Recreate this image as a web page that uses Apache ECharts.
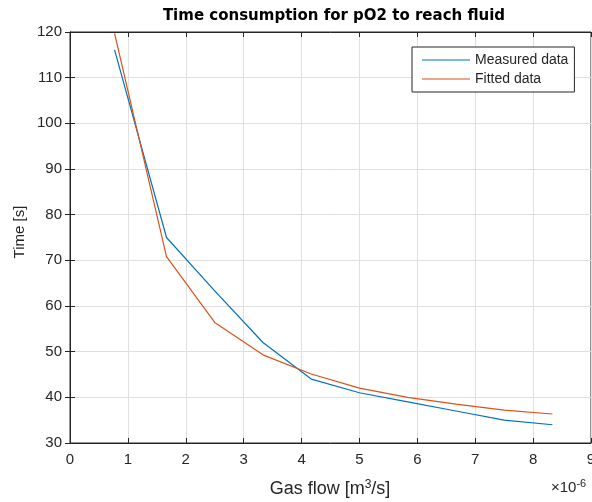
<!DOCTYPE html>
<html><head><meta charset="utf-8">
<script src="https://cdn.jsdelivr.net/npm/echarts@6/dist/echarts.min.js"></script>
<style>html,body{margin:0;padding:0;background:#fff}#c{width:592px;height:502px}</style>
</head><body><div id="c"></div>
<script>
// Gas flow in units of 1e-6 m^3/s
const gasFlow = [0.77, 1.667, 2.5, 3.333, 4.167, 5.0, 5.833, 6.667, 7.5, 8.333];
const measured = [116.1, 75, 63.3, 52, 44, 41, 39, 37, 35, 34];
const fitted = [119.7, 70.8, 56.4, 49.3, 45.1, 42.0, 40.0, 38.5, 37.2, 36.35];
const xTicks = [0,1,2,3,4,5,6,7,8,9];
const yTicks = [30,40,50,60,70,80,90,100,110,120];
const seriesNames = ['Measured data', 'Fitted data'];

const pairs = a => gasFlow.map((x,i)=>[x,a[i]]);
const font = '"Liberation Sans", Arial, Helvetica, sans-serif';
const chart = echarts.init(document.getElementById('c'));
const grid = {left:70, right:1, top:32, bottom:59, outerBoundsMode:'none', containLabel:false,
  show:true, borderColor:'#262626', borderWidth:1, backgroundColor:'#fff'};
const axisCommon = {
  type:'value', axisLine:{show:true, lineStyle:{color:'#262626', width:1}},
  axisTick:{show:true, inside:true, length:5, lineStyle:{color:'#262626'}},
};
chart.setOption({
  animation:false,
  textStyle:{fontFamily:font},
  grid,
  xAxis:[
    Object.assign({}, axisCommon, {min:0, max:9, interval:1, position:'bottom',
      splitLine:{show:true, lineStyle:{color:'#dfdfdf', width:1}},
      axisLabel:{color:'#262626', fontSize:15, margin:9, fontFamily:font, formatter:v=>xTicks.includes(v)?String(v):''}}),
    Object.assign({}, axisCommon, {min:0, max:9, interval:1, position:'top', axisLabel:{show:false}, splitLine:{show:false}})
  ],
  yAxis:[
    Object.assign({}, axisCommon, {min:30, max:120, interval:10, position:'left',
      splitLine:{show:true, lineStyle:{color:'#dfdfdf', width:1}},
      axisLabel:{color:'#262626', fontSize:15, margin:8, fontFamily:font, formatter:v=>yTicks.includes(v)?String(v):''}}),
    Object.assign({}, axisCommon, {min:30, max:120, interval:10, position:'right', axisLabel:{show:false}, splitLine:{show:false}})
  ],
  legend:{
    show:true, orient:'vertical', left:412, top:47,
    backgroundColor:'#fff', borderColor:'#262626', borderWidth:1,
    padding:[5,6,5,10], itemGap:3, itemWidth:48, itemHeight:1,
    icon:'rect',
    textStyle:{fontSize:14, color:'#262626', fontFamily:font, lineHeight:16},
    data:seriesNames
  },
  title:{text:'Time consumption for pO2 to reach fluid', left:329, top:4, textAlign:'center',
    textStyle:{fontSize:15, fontWeight:'bold', color:'#000', fontFamily:'"DejaVu Sans", sans-serif'}},
  graphic:[
    {type:'text', x:20, y:232, rotation:Math.PI/2, style:{text:'Time [s]', fill:'#262626', font:'15px '+font, align:'center', verticalAlign:'middle'}},
    {type:'text', x:330, y:489, style:{text:'Gas flow [m{sup|3}/s]', fill:'#262626', font:'18px '+font, align:'center', verticalAlign:'middle',
      rich:{sup:{fontSize:12, verticalAlign:'top', padding:[0,0,9,0], fill:'#262626', fontFamily:font}}}},
    {type:'text', x:551, y:488, style:{text:'\u00d710{sup|-6}', fill:'#262626', font:'15px '+font, align:'left', verticalAlign:'middle',
      rich:{sup:{fontSize:11, padding:[0,0,9,0], fill:'#262626', fontFamily:font}}}}
  ],
  series:[
    {name:seriesNames[0], type:'line', data:pairs(measured), symbol:'none', lineStyle:{color:'#0072BD', width:1.2}, itemStyle:{color:'#0072BD'}},
    {name:seriesNames[1], type:'line', data:pairs(fitted), symbol:'none', lineStyle:{color:'#D95319', width:1.2}, itemStyle:{color:'#D95319'}}
  ]
});
</script></body></html>
